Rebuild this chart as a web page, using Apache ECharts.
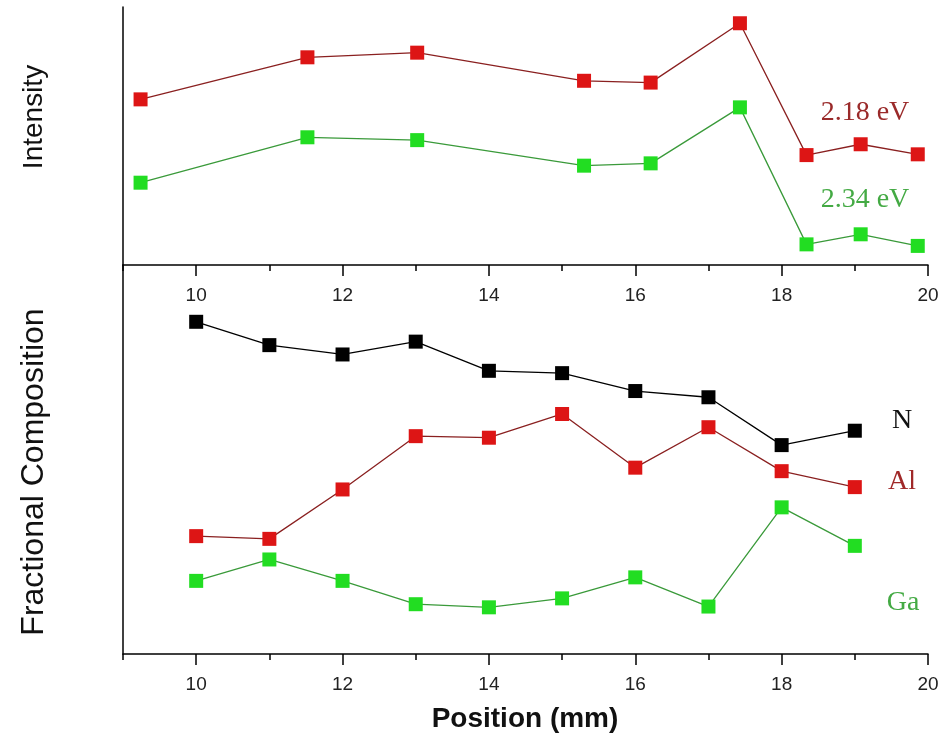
<!DOCTYPE html>
<html><head><meta charset="utf-8">
<script src="https://cdn.jsdelivr.net/npm/echarts@6/dist/echarts.min.js"></script>
<style>html,body{margin:0;padding:0;background:#fff}#c{width:942px;height:750px}</style>
</head><body><div id="c"></div>
<script>
// Top panel: emission intensity vs position
const topX = [9.24, 11.52, 13.02, 15.3, 16.21, 17.43, 18.34, 19.08, 19.86];
const int218 = [64.2, 80.5, 82.3, 71.4, 70.7, 93.7, 42.6, 46.8, 42.9];
const int234 = [31.9, 49.5, 48.4, 38.5, 39.4, 61.1, 8.0, 11.9, 7.4];
// Bottom panel: fractional composition vs position
const compX = [10, 11, 12, 13, 14, 15, 16, 17, 18, 19];
const fracN = [85.4, 79.4, 77.0, 80.3, 72.8, 72.2, 67.6, 66.0, 53.7, 57.4];
const fracAl = [30.3, 29.6, 42.3, 56.0, 55.6, 61.7, 47.9, 58.3, 47.0, 42.9];
const fracGa = [18.8, 24.3, 18.8, 12.8, 12.0, 14.3, 19.7, 12.2, 37.7, 27.8];
// Tick labels
const majorTicks = [10, 12, 14, 16, 18, 20];
const minorTicks = [9, 11, 13, 15, 17, 19];

const zip = (xs, ys) => xs.map((x, i) => [x, ys[i]]);
const chart = echarts.init(document.getElementById('c'), null, {renderer: 'canvas'});

const axisFont = {fontFamily: 'Liberation Sans, Arial, sans-serif', fontSize: 19, color: '#222'};
function mainX(g) {
  return {type: 'value', gridIndex: g, min: 9, max: 20, position: 'bottom',
    axisLine: {show: true, onZero: false, lineStyle: {color: '#000', width: 1.5}},
    axisTick: {show: true, inside: false, length: 11, customValues: majorTicks, lineStyle: {color: '#000', width: 1.5}},
    axisLabel: Object.assign({show: true, margin: 21, customValues: majorTicks}, axisFont),
    splitLine: {show: false}};
}
function minorX(g) {
  return {type: 'value', gridIndex: g, min: 9, max: 20, position: 'bottom',
    axisLine: {show: false},
    axisTick: {show: true, inside: false, length: 6, customValues: minorTicks, lineStyle: {color: '#000', width: 1.5}},
    axisLabel: {show: false}, splitLine: {show: false}};
}
function yAx(g) {
  return {type: 'value', gridIndex: g, min: 0, max: 100,
    axisLine: {show: true, onZero: false, lineStyle: {color: '#000', width: 1.5}},
    axisTick: {show: false}, axisLabel: {show: false}, splitLine: {show: false}};
}
function ser(name, xi, yi, data, mColor, lColor) {
  return {name, type: 'line', xAxisIndex: xi, yAxisIndex: yi, data,
    symbol: 'rect', symbolSize: 14, showAllSymbol: true, animation: false,
    itemStyle: {color: mColor}, lineStyle: {color: lColor, width: 1.3}};
}
const serif = 'Liberation Serif, Times New Roman, serif';
const sans = 'Liberation Sans, Arial, sans-serif';

chart.setOption({
  animation: false,
  backgroundColor: '#fff',
  grid: [
    {left: 123, right: 14, top: 7, height: 258},
    {left: 123, right: 14, top: 265, height: 389}
  ],
  xAxis: [mainX(0), mainX(1), minorX(0), minorX(1)],
  yAxis: [yAx(0), yAx(1)],
  series: [
    ser('2.18 eV', 0, 0, zip(topX, int218), '#dd1515', '#8a2020'),
    ser('2.34 eV', 0, 0, zip(topX, int234), '#22dd22', '#3a9a3a'),
    ser('N', 1, 1, zip(compX, fracN), '#000', '#000'),
    ser('Al', 1, 1, zip(compX, fracAl), '#dd1515', '#8a2020'),
    ser('Ga', 1, 1, zip(compX, fracGa), '#22dd22', '#3a9a3a')
  ],
  graphic: [
    {type: 'text', x: 34, y: 117, rotation: Math.PI / 2,
      style: {text: 'Intensity', font: '28px ' + sans, fill: '#111', align: 'center', verticalAlign: 'middle'}},
    {type: 'text', x: 34, y: 472, rotation: Math.PI / 2,
      style: {text: 'Fractional Composition', font: '32px ' + sans, fill: '#111', align: 'center', verticalAlign: 'middle'}},
    {type: 'text', x: 525, y: 719,
      style: {text: 'Position (mm)', font: 'bold 28px ' + sans, fill: '#111', align: 'center', verticalAlign: 'middle'}},
    {type: 'text', x: 865, y: 113,
      style: {text: '2.18 eV', font: '28px ' + serif, fill: '#9a2a2a', align: 'center', verticalAlign: 'middle'}},
    {type: 'text', x: 865, y: 200,
      style: {text: '2.34 eV', font: '28px ' + serif, fill: '#44aa44', align: 'center', verticalAlign: 'middle'}},
    {type: 'text', x: 902, y: 421,
      style: {text: 'N', font: '28px ' + serif, fill: '#111', align: 'center', verticalAlign: 'middle'}},
    {type: 'text', x: 902, y: 482,
      style: {text: 'Al', font: '28px ' + serif, fill: '#a02828', align: 'center', verticalAlign: 'middle'}},
    {type: 'text', x: 903, y: 603,
      style: {text: 'Ga', font: '28px ' + serif, fill: '#44aa44', align: 'center', verticalAlign: 'middle'}}
  ]
});
</script></body></html>
